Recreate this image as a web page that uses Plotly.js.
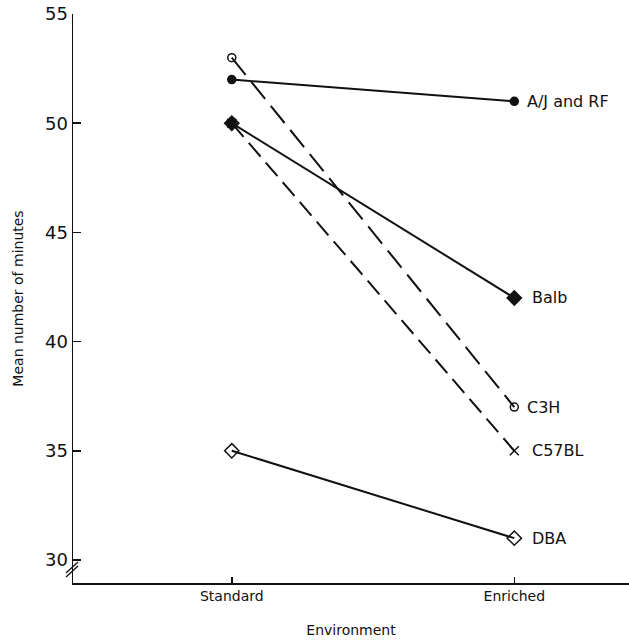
<!DOCTYPE html>
<html>
<head>
<meta charset="utf-8">
<script src="https://cdn.plot.ly/plotly-3.0.1.min.js"></script>
<style>html,body{margin:0;padding:0;background:#fff;}#chart{width:629px;height:640px;}</style>
</head>
<body>
<div id="chart"></div>
<script>
var environments = ['Standard', 'Enriched'];
var strains = ['A/J and RF', 'Balb', 'C3H', 'C57BL', 'DBA'];
var ajrf = [52, 51];
var balb = [50, 42];
var c3h = [53, 37];
var c57bl = [50, 35];
var dba = [35, 31];
var yTicks = [30, 35, 40, 45, 50, 55];

var seriesValues = [ajrf, balb, c3h, c57bl, dba];
var styles = [
  {symbol: 'circle', size: 8, dash: 'solid'},
  {symbol: 'diamond', size: 11, dash: 'solid'},
  {symbol: 'circle-open', size: 8, dash: '22px,9px'},
  {symbol: 'x-thin-open', size: 9, dash: '18px,8px'},
  {symbol: 'diamond-open', size: 11, dash: 'solid'}
];

var traces = strains.map(function (name, i) {
  return {
    type: 'scatter',
    mode: 'lines+markers',
    name: name,
    x: environments,
    y: seriesValues[i],
    line: {color: '#111', width: 2, dash: styles[i].dash},
    marker: {symbol: styles[i].symbol, size: styles[i].size, color: '#111',
             line: {color: '#111', width: 1.5}},
    showlegend: false,
    cliponaxis: false
  };
});

var labelShift = [11, 16, 11, 16, 16];
var annotations = strains.map(function (name, i) {
  var v = seriesValues[i];
  return {
    x: environments[1], y: v[v.length - 1], xref: 'x', yref: 'y',
    text: name, showarrow: false, xanchor: 'left', yanchor: 'middle',
    xshift: labelShift[i],
    font: {family: 'DejaVu Sans', size: 16, color: '#111'}
  };
});

function px2x(px) { return (px - 73) / 556; }
function px2y(py) { return (583 - py) / 569; }
var shapes = [
  {type: 'line', xref: 'paper', yref: 'paper', x0: px2x(66), y0: px2y(573), x1: px2x(78), y1: px2y(562), line: {color: '#111', width: 1.3}},
  {type: 'line', xref: 'paper', yref: 'paper', x0: px2x(66), y0: px2y(577), x1: px2x(78), y1: px2y(566), line: {color: '#111', width: 1.3}}
];

var layout = {
  width: 629, height: 640,
  margin: {l: 73, r: 0, t: 14, b: 57},
  paper_bgcolor: '#fff', plot_bgcolor: '#fff',
  font: {family: 'DejaVu Sans', color: '#111'},
  xaxis: {
    type: 'category',
    range: [-0.562, 1.406],
    showgrid: false, zeroline: false,
    showline: true, linecolor: '#111', linewidth: 1.5,
    ticks: 'inside', ticklen: 6, tickcolor: '#111', tickwidth: 1.5,
    tickfont: {family: 'DejaVu Sans', size: 14, color: '#111'},
    title: {text: 'Environment', font: {family: 'DejaVu Sans', size: 14, color: '#111'}, standoff: 22}
  },
  yaxis: {
    range: [28.947, 55],
    tickvals: yTicks,
    showgrid: false, zeroline: false,
    showline: true, linecolor: '#111', linewidth: 1.5,
    ticks: 'inside', ticklen: 8, tickcolor: '#111', tickwidth: 1.5,
    tickfont: {family: 'DejaVu Sans', size: 18, color: '#111'},
    title: {text: 'Mean number of minutes', font: {family: 'DejaVu Sans', size: 14, color: '#111'}, standoff: 18}
  },
  annotations: annotations,
  shapes: shapes
};

Plotly.newPlot('chart', traces, layout, {displayModeBar: false, staticPlot: true});
</script>
</body>
</html>
